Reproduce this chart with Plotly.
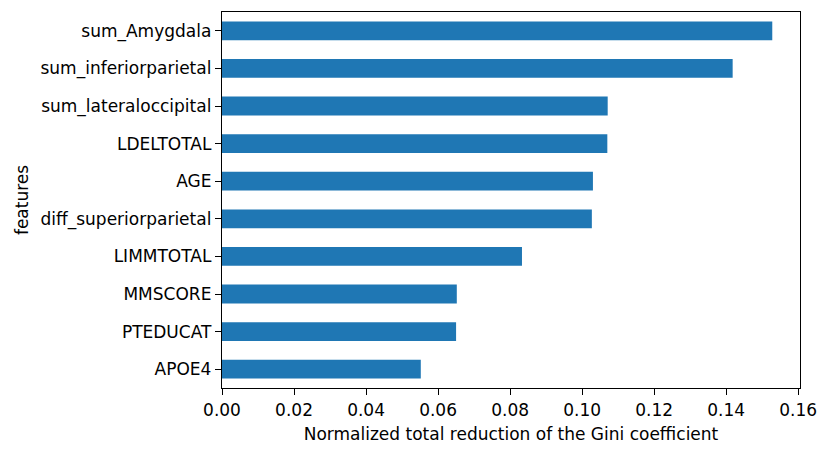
import plotly.graph_objects as go

features = ["APOE4", "PTEDUCAT", "MMSCORE", "LIMMTOTAL", "diff_superiorparietal",
            "AGE", "LDELTOTAL", "sum_lateraloccipital", "sum_inferiorparietal", "sum_Amygdala"]
importance = [0.0552, 0.0650, 0.0652, 0.0833, 0.1027, 0.1030, 0.1070, 0.1071, 0.1418, 0.1528]
x_ticks = [0.00, 0.02, 0.04, 0.06, 0.08, 0.10, 0.12, 0.14, 0.16]

fig = go.Figure(go.Bar(
    x=importance, y=features, orientation="h", width=0.5,
    marker=dict(color="#1f77b4", line=dict(width=0)),
))

# page body adds 8px, so figure is 822x445
fig.update_layout(
    width=822, height=445,
    margin=dict(l=214, r=30, t=4, b=65),
    plot_bgcolor="white", paper_bgcolor="white",
    font=dict(family="DejaVu Sans", size=17, color="black"),
    showlegend=False,
)
fig.update_xaxes(
    range=[0, 0.1605], tickvals=x_ticks, tickformat=".2f",
    tickfont=dict(size=17), automargin=False,
    showgrid=False, zeroline=False,
    showline=True, mirror=True, linecolor="black", linewidth=1.4,
    ticks="outside", ticklen=6, tickwidth=1.4, tickcolor="black",
    title=dict(text="Normalized total reduction of the Gini coefficient",
               standoff=9, font=dict(size=17)),
)
fig.update_yaxes(
    type="category", categoryorder="array", categoryarray=features,
    tickfont=dict(size=17), automargin=False,
    range=[-0.5, 9.5], showgrid=False, zeroline=False,
    showline=True, mirror=True, linecolor="black", linewidth=1.4,
    ticks="outside", ticklen=6, tickwidth=1.4, tickcolor="black",
    title=dict(text="features", standoff=7, font=dict(size=17)),
)

fig.write_html("out.html")
